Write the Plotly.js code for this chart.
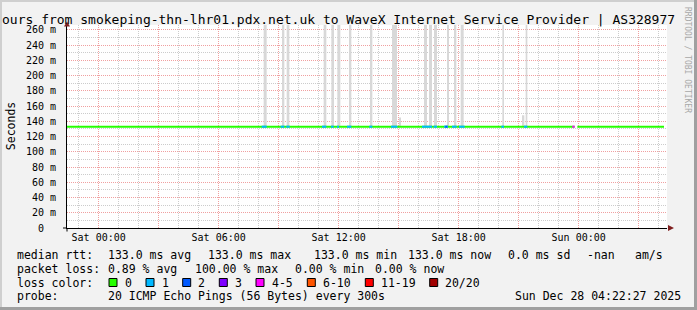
<!DOCTYPE html>
<html><head><meta charset="utf-8">
<script src="https://cdn.plot.ly/plotly-3.0.1.min.js"></script>
<style>html,body{margin:0;padding:0;background:#f2f2f2}#chart{width:697px;height:310px}</style>
</head><body><div id="chart"></div>
<script>
// ---------- data ----------
const titleText = 'ours from smokeping-thn-lhr01.pdx.net.uk to WaveX Internet Service Provider | AS328977';
const yAxisTitle = 'Seconds';
const sideText = 'RRDTOOL / TOBI OETIKER';
const xRange = ['2025-12-26 22:25:00', '2025-12-28 04:25:00'];
const xTickTimes = ['2025-12-27 00:00','2025-12-27 03:00','2025-12-27 06:00','2025-12-27 09:00','2025-12-27 12:00',
  '2025-12-27 15:00','2025-12-27 18:00','2025-12-27 21:00','2025-12-28 00:00','2025-12-28 03:00'];
const xTickLabels = ['Sat 00:00','','Sat 06:00','','Sat 12:00','','Sat 18:00','','Sun 00:00',''];
const yTickValues = [0,20,40,60,80,100,120,140,160,180,200,220,240,260];
const yTickLabels = ['0\u00a0\u00a0','20 m','40 m','60 m','80 m','100 m','120 m','140 m','160 m','180 m','200 m','220 m','240 m','260 m'];

const medianRttMs = 133.0;
const dataStart = '2025-12-26 22:25:00';
const dataEnd = '2025-12-28 04:16:00';
const gapStart = '2025-12-27 23:48:00';
const gapEnd = '2025-12-27 23:56:00';

// runs of pings lost (level = index into lossLabels)
const lossRunStart = ['2025-12-27 08:09','2025-12-27 09:06','2025-12-27 09:23','2025-12-27 11:10','2025-12-27 11:37',
  '2025-12-27 11:55','2025-12-27 12:25','2025-12-27 13:32','2025-12-27 14:37','2025-12-27 16:10','2025-12-27 16:45',
  '2025-12-27 17:16','2025-12-27 17:20','2025-12-27 17:40','2025-12-27 18:01','2025-12-27 20:08','2025-12-27 21:16',
  '2025-12-27 23:41'];
const lossRunEnd = ['2025-12-27 08:24','2025-12-27 09:17','2025-12-27 09:33','2025-12-27 11:23','2025-12-27 11:45',
  '2025-12-27 12:01','2025-12-27 12:38','2025-12-27 13:41','2025-12-27 14:56','2025-12-27 16:40','2025-12-27 16:55',
  '2025-12-27 17:28','2025-12-27 17:26','2025-12-27 17:54','2025-12-27 18:18','2025-12-27 20:16','2025-12-27 21:26',
  '2025-12-27 23:48'];
const lossRunLevel = [1,1,1,1,1,1,1,1,1,1,1,1,2,1,1,1,1,4];

// smoke (ping spread) bars
const smokeStart = ['2025-12-27 08:15','2025-12-27 09:10','2025-12-27 09:24','2025-12-27 11:15','2025-12-27 11:38',
  '2025-12-27 11:56','2025-12-27 12:31','2025-12-27 13:34','2025-12-27 14:40','2025-12-27 15:01','2025-12-27 16:16',
  '2025-12-27 16:31','2025-12-27 16:46','2025-12-27 17:25','2025-12-27 17:46','2025-12-27 18:06','2025-12-27 20:11',
  '2025-12-27 21:10','2025-12-27 21:21'];
const smokeEnd = ['2025-12-27 08:24','2025-12-27 09:17','2025-12-27 09:32','2025-12-27 11:23','2025-12-27 11:46',
  '2025-12-27 12:05','2025-12-27 12:38','2025-12-27 13:41','2025-12-27 14:55','2025-12-27 15:07','2025-12-27 16:25',
  '2025-12-27 16:40','2025-12-27 16:55','2025-12-27 17:31','2025-12-27 17:53','2025-12-27 18:15','2025-12-27 20:16',
  '2025-12-27 21:17','2025-12-27 21:26'];
const smokeTopMs = [400,400,400,400,400,400,400,400,400,145,400,400,400,400,400,400,400,148,400];

const lossLabels = ['0','1','2','3','4-5','6-10','11-19','20/20'];
const rttStats = ['133.0 ms avg','133.0 ms max','133.0 ms min','133.0 ms now','0.0 ms sd','-nan','am/s'];
const lossStats = ['0.89 % avg','100.00 % max','0.00 % min','0.00 % now'];
const rowLabels = ['median rtt:','packet loss:','loss color:','probe:'];
const probeText = '20 ICMP Echo Pings (56 Bytes) every 300s';
const stampText = 'Sun Dec 28 04:22:27 2025';

// ---------- styles ----------
const lossColors = ['#26ff00','#00b8ff','#0059ff','#7e00ff','#ff00ff','#ff5500','#ff0000','#a10000'];
const MONO = 'DejaVu Sans Mono';
const L = 67, R = 667, T = 25, B = 228;
const px = x => (x - L) / (R - L);
const py = y => (B - y) / (B - T);

const ms = s => new Date(s.replace(' ', 'T') + (s.length === 16 ? ':00' : '')).getTime();

// ---------- traces ----------
const traces = [];
traces.push({
  type: 'bar', x: smokeStart, y: smokeTopMs.map(v => v - medianRttMs), base: smokeStart.map(() => medianRttMs),
  width: smokeStart.map((s, i) => ms(smokeEnd[i]) - ms(s)), offset: 0,
  marker: {color: '#d8d8d8', line: {width: 0}}, hoverinfo: 'skip'
});
traces.push({
  type: 'scatter', mode: 'lines', x: [dataStart, gapStart, null, gapEnd, dataEnd],
  y: [medianRttMs, medianRttMs, null, medianRttMs, medianRttMs],
  line: {color: lossColors[0], width: 2}, connectgaps: false, hoverinfo: 'skip'
});
for (let lv = 1; lv < lossLabels.length; lv++) {
  const xs = [], ys = [];
  lossRunLevel.forEach((l, i) => {
    if (l === lv) { xs.push(lossRunStart[i], lossRunEnd[i], null); ys.push(medianRttMs, medianRttMs, null); }
  });
  if (xs.length) traces.push({type: 'scatter', mode: 'lines', x: xs, y: ys, connectgaps: false,
    line: {color: lossColors[lv], width: 2}, hoverinfo: 'skip'});
}

// ---------- annotations ----------
const ann = [];
function txt(text, x, y, size, extra) {
  ann.push(Object.assign({text, xref: 'paper', yref: 'paper', x: px(x), y: py(y), xanchor: 'left', yanchor: 'middle',
    showarrow: false, borderpad: 0, font: {family: MONO, size: size || 11.5, color: '#000'}}, extra || {}));
}
const rowY = [254.5, 268.5, 282.5, 296];
rowLabels.forEach((t, i) => txt(t, 16, rowY[i]));
const rttX = [107, 207, 313, 407, 507, 586, 634];
rttStats.forEach((t, i) => txt(t, rttX[i], rowY[0]));
const lossX = [107, 194, 293.5, 373.7];
lossStats.forEach((t, i) => txt(t, lossX[i], rowY[1]));
txt(probeText, 107, rowY[3]);
txt(stampText, 513.7, rowY[3]);
const boxX = [109, 146, 182.7, 219.3, 256, 307.3, 365.3, 429.7];
const shapes = [];
lossLabels.forEach((t, i) => {
  txt(t, boxX[i] + 14.5, rowY[2]);
  shapes.push({type: 'rect', xref: 'paper', yref: 'paper', x0: px(boxX[i]), x1: px(boxX[i] + 8),
    y0: py(rowY[2] + 4), y1: py(rowY[2] - 4), fillcolor: lossColors[i], line: {color: '#000', width: 1}});
});
// side credit
ann.push({text: sideText, xref: 'paper', yref: 'paper', x: px(688), y: py(60), xanchor: 'center', yanchor: 'middle',
  textangle: 90, showarrow: false, font: {family: MONO, size: 8, color: '#a8a8a8'}});
// y title
ann.push({text: yAxisTitle, xref: 'paper', yref: 'paper', x: px(10.7), y: py(126.5), xanchor: 'center', yanchor: 'middle',
  textangle: -90, showarrow: false, font: {family: MONO, size: 11.5, color: '#000'}});

// frame + arrows
shapes.push({type: 'rect', xref: 'paper', yref: 'paper', x0: px(0), x1: px(2), y0: py(310), y1: py(0), fillcolor: '#cfcfcf', line: {width: 0}, layer: 'below'});
shapes.push({type: 'rect', xref: 'paper', yref: 'paper', x0: px(0), x1: px(697), y0: py(2), y1: py(0), fillcolor: '#cfcfcf', line: {width: 0}, layer: 'below'});
shapes.push({type: 'rect', xref: 'paper', yref: 'paper', x0: px(694), x1: px(697), y0: py(310), y1: py(0), fillcolor: '#a0a0a0', line: {width: 0}, layer: 'below'});
shapes.push({type: 'rect', xref: 'paper', yref: 'paper', x0: px(0), x1: px(697), y0: py(310), y1: py(307), fillcolor: '#a0a0a0', line: {width: 0}, layer: 'below'});
shapes.push({type: 'path', xref: 'paper', yref: 'paper', path: `M${px(64)},${py(26.5)} L${px(70)},${py(26.5)} L${px(67)},${py(21.5)} Z`, fillcolor: '#7f1f1f', line: {width: 0}});
shapes.push({type: 'path', xref: 'paper', yref: 'paper', path: `M${px(668)},${py(225)} L${px(668)},${py(231)} L${px(674)},${py(228)} Z`, fillcolor: '#7f1f1f', line: {width: 0}});
shapes.push({type: 'line', xref: 'paper', yref: 'paper', x0: px(67), x1: px(67), y0: py(228), y1: py(231.5), line: {color: '#000', width: 1}});
shapes.push({type: 'line', xref: 'paper', yref: 'paper', x0: px(63), x1: px(67), y0: py(228), y1: py(228), line: {color: '#000', width: 1}});

const RED = '#f0a0a0', GRAY = '#cccccc';
const layout = {
  width: 697, height: 310, margin: {l: L, r: 697 - R, t: T, b: 310 - B, pad: 0},
  paper_bgcolor: '#f2f2f2', plot_bgcolor: '#ffffff', showlegend: false, hovermode: false,
  barmode: 'overlay',
  font: {family: MONO, size: 10, color: '#000'},
  title: {text: titleText, xref: 'container', yref: 'container', x: 2 / 697, xanchor: 'left',
    y: 1 - 19 / 310, yanchor: 'middle', font: {family: MONO, size: 13, color: '#000'}},
  xaxis: {type: 'date', range: xRange, tickmode: 'array', tickvals: xTickTimes, ticktext: xTickLabels,
    showgrid: true, gridcolor: RED, griddash: '1px,1px', gridwidth: 1, showline: true, linecolor: '#000', linewidth: 1,
    ticks: '', zeroline: false, fixedrange: true, tickfont: {family: MONO, size: 10, color: '#000'},
    minor: {tickmode: 'linear', tick0: '2025-12-27 00:00', dtick: 3600000, showgrid: true, gridcolor: GRAY, griddash: '1px,1px', gridwidth: 1, ticks: ''}},
  yaxis: {range: [0, 266.5], tickmode: 'array', tickvals: yTickValues, ticktext: yTickLabels,
    showgrid: true, gridcolor: RED, griddash: '1px,1px', gridwidth: 1, showline: true, linecolor: '#000', linewidth: 1,
    ticks: '', zeroline: false, fixedrange: true, ticklabelstandoff: 8, tickfont: {family: MONO, size: 10, color: '#000'},
    minor: {tickmode: 'linear', tick0: 0, dtick: 10, showgrid: true, gridcolor: GRAY, griddash: '1px,1px', gridwidth: 1, ticks: ''}},
  annotations: ann, shapes: shapes
};
Plotly.newPlot('chart', traces, layout, {staticPlot: true, displayModeBar: false});
</script></body></html>
